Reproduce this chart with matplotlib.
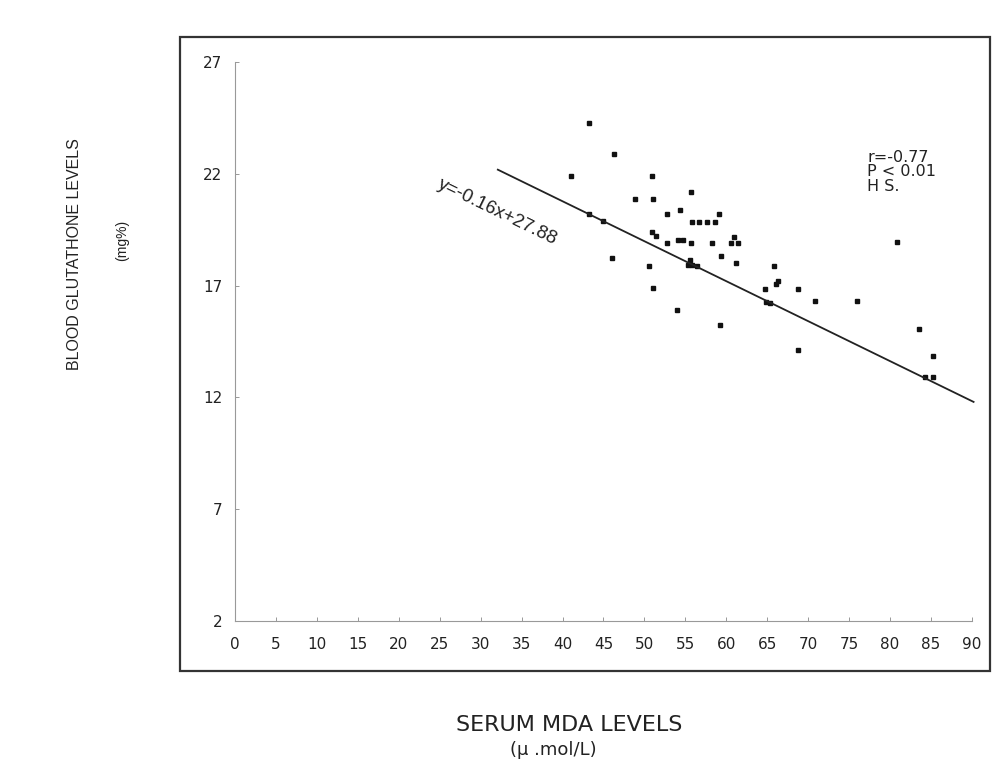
import numpy as np
import matplotlib
matplotlib.use('Agg')
import matplotlib.pyplot as plt
from matplotlib.patches import Rectangle

# serum MDA (x) vs blood glutathione (y)
mda = [43.2, 46.3, 41.0, 50.9, 48.8, 51.0, 55.7, 43.2, 44.9, 52.8,
       54.4, 55.8, 56.7, 57.6, 58.6, 59.1, 50.9, 51.4, 52.7, 54.1,
       54.7, 55.7, 58.2, 61.0, 60.6, 61.4, 59.3, 61.2, 46.0, 50.6,
       55.6, 55.3, 55.8, 56.4, 51.1, 54.0, 59.2, 65.8, 66.3, 66.1,
       64.7, 68.8, 64.9, 65.3, 70.8, 76.0, 80.8, 68.8, 83.5, 85.2,
       84.3, 85.2]
gsh = [24.3, 22.9, 21.9, 21.9, 20.9, 20.9, 21.2, 20.2, 19.9, 20.2,
       20.4, 19.85, 19.85, 19.85, 19.85, 20.2, 19.4, 19.25, 18.9, 19.05,
       19.05, 18.9, 18.9, 19.2, 18.9, 18.9, 18.35, 18.04, 18.26, 17.9,
       18.17, 17.92, 17.92, 17.9, 16.9, 15.93, 15.23, 17.9, 17.2, 17.07,
       16.86, 16.84, 16.28, 16.25, 16.33, 16.32, 18.98, 14.14, 15.07, 13.86,
       12.9, 12.9]

# drawn regression line end points
fit_x = [32.1, 90.2]
fit_y = [22.2, 11.8]

x_ticks = np.arange(0, 91, 5)
y_ticks = [2, 7, 12, 17, 22, 27]

plt.rcParams["font.family"] = ["Liberation Sans", "DejaVu Sans"]

fig = plt.figure(figsize=(10.02, 7.62), dpi=100)
ax = fig.add_axes([0.2345, 0.1854, 0.7355, 0.7326])

ax.plot(mda, gsh, linestyle='none', marker='s', ms=3.2, color='#111111')
ax.plot(fit_x, fit_y, lw=1.3, color='#222222', clip_on=False)

ax.set_xlim(0, 90)
ax.set_ylim(2, 27)
ax.set_xticks(x_ticks)
ax.set_yticks(y_ticks)
ax.tick_params(axis='both', direction='in', length=3, width=0.6,
               color='#888888', labelsize=11)
ax.tick_params(axis='x', pad=12)
ax.tick_params(axis='y', pad=9)
for lab in ax.get_xticklabels() + ax.get_yticklabels():
    lab.set_family('DejaVu Sans')
    lab.set_color('#222222')
for side in ['top', 'right']:
    ax.spines[side].set_visible(False)
for side in ['left', 'bottom']:
    ax.spines[side].set_linewidth(0.8)
    ax.spines[side].set_color('#999999')

ax.text(32.1, 20.3, 'y=-0.16x+27.88', rotation=-26, fontsize=13.5,
        ha='center', va='center', color='#222222')
ax.text(77.2, 22.1, 'r=-0.77\nP < 0.01\nH S.', fontsize=11.5,
        family='DejaVu Sans', ha='left', va='center', linespacing=0.95,
        color='#222222')

# outer frame round the whole plot
fig.add_artist(Rectangle((0.1796, 0.1194), 0.8084, 0.832, transform=fig.transFigure,
                         fill=False, lw=1.6, edgecolor='#333333'))

fig.text(0.568, 0.0486, 'SERUM MDA LEVELS', fontsize=16, family='DejaVu Sans',
         ha='center', va='center', color='#222222')
fig.text(0.552, 0.016, '(\u00b5 .mol/L)', fontsize=13, family='DejaVu Sans',
         ha='center', va='center', color='#222222')
fig.text(0.0748, 0.667, 'BLOOD GLUTATHONE LEVELS', fontsize=11.5, rotation=90,
         ha='center', va='center', color='#222222')
fig.text(0.1215, 0.684, '(mg%)', fontsize=10, rotation=90,
         ha='center', va='center', color='#222222')

plt.savefig('out.png', dpi=100)
